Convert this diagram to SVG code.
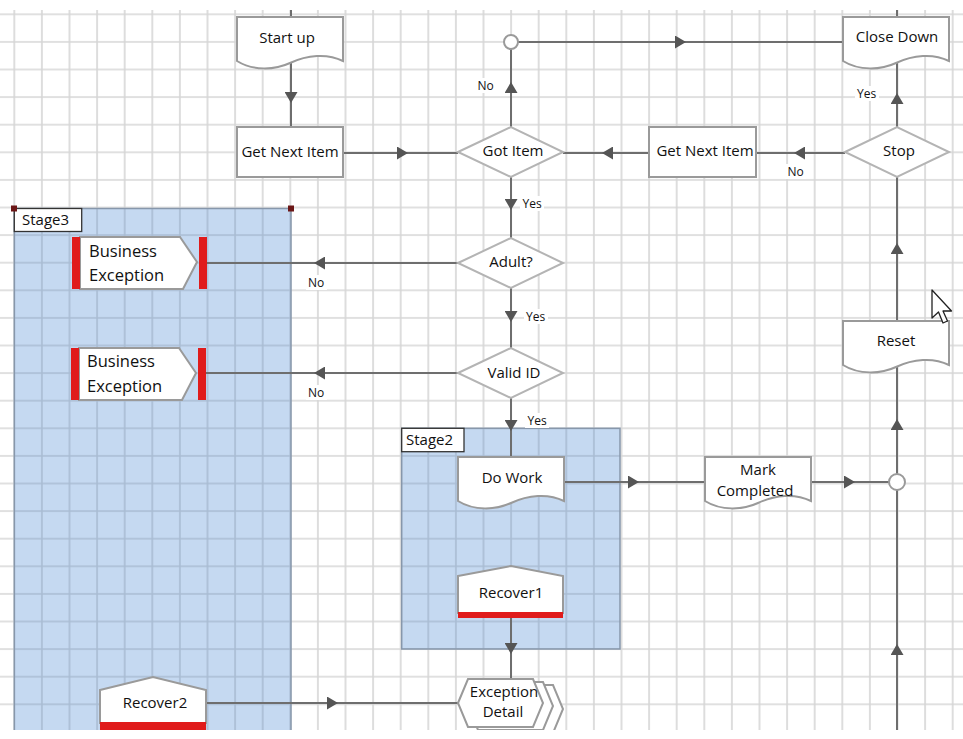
<svg xmlns="http://www.w3.org/2000/svg" xmlns:xlink="http://www.w3.org/1999/xlink" width="963" height="739" viewBox="0 0 963 739">
<style>
  text { font-family: "Open Sans", "Liberation Sans", sans-serif; fill: #111; }
  .t { font-size: 15px; text-anchor: middle; }
  .be { font-size: 16.5px; }
  .lbl { font-size: 12px; }
  .stg { font-size: 15px; }
  .node { fill: #fff; stroke: #9a9a9a; stroke-width: 2; }
  .dia { fill: #fff; stroke: #b4b4b4; stroke-width: 2; }
  .con { fill: none; stroke: #6e6e6e; stroke-width: 2; marker-mid: url(#arr); }
  .plain { fill: none; stroke: #6e6e6e; stroke-width: 2; }
  .red { fill: #e01b1b; }
  .lblbg { fill: #fff; }
  .stage { fill: url(#sg); stroke: #8797ab; stroke-width: 1.5; }
  .stagebox { fill: #fff; stroke: #333; stroke-width: 1.3; }
</style>
<defs>
  <pattern id="g" width="27.6" height="27.6" patternUnits="userSpaceOnUse" x="0.5" y="0.5">
    <rect width="27.6" height="27.6" fill="#fff"/>
    <path d="M13.8,0 V27.6 M0,13.8 H27.6" stroke="#d6d6d6" stroke-width="1.6"/>
  </pattern>
  <pattern id="sg" width="27.6" height="27.6" patternUnits="userSpaceOnUse" x="0.5" y="0.5">
    <rect width="27.6" height="27.6" fill="#c5d9f1"/>
    <path d="M13.8,0 V27.6 M0,13.8 H27.6" stroke="#a9bcd3" stroke-width="1.6"/>
  </pattern>
  <marker id="arr" markerUnits="userSpaceOnUse" markerWidth="11" markerHeight="13" refX="5" refY="6.5" orient="auto" viewBox="0 0 11 13">
    <path d="M0,0 L11,6.5 L0,13 Z" fill="#555"/>
  </marker>
  <path id="doc" d="M0,0 H106 V44 C90,36 70,38 53,46 C38,53 16,54 0,44 Z"/>
  <clipPath id="frame"><rect x="0" y="10" width="963" height="720"/></clipPath>
</defs>

<rect x="0" y="0" width="963" height="739" fill="#fff"/>
<g clip-path="url(#frame)">
  <rect x="0" y="10" width="963" height="720" fill="url(#g)"/>

  <g id="stage3">
    <rect class="stage" x="14.3" y="208.5" width="276.7" height="540"/>
  </g>
  <g id="stage2">
    <rect class="stage" x="401.7" y="428.3" width="218.3" height="220.7"/>
  </g>

  <g id="connectors">
    <path class="plain" d="M291,10 V17"/>
    <path class="plain" d="M897,10 V17"/>
    <path class="con" d="M291,62 L291,97 L291,127"/>
    <path class="con" d="M343,153 L402,153 L458,153"/>
    <path class="con" d="M511,127 L511,88 L511,49"/>
    <path class="con" d="M518,42 L680,42 L843,42"/>
    <path class="con" d="M897,127 L897,99 L897,62"/>
    <path class="con" d="M845,153 L800,153 L756,153"/>
    <path class="con" d="M649,153 L608,153 L563,153"/>
    <path class="con" d="M511,177 L511,204 L511,238"/>
    <path class="con" d="M458,263 L320,263 L207,263"/>
    <path class="con" d="M511,288 L511,316 L511,348"/>
    <path class="con" d="M458,373 L320,373 L206,373"/>
    <path class="con" d="M511,398 L511,425 L511,457"/>
    <path class="con" d="M563,482 L633,482 L705,482"/>
    <path class="con" d="M811,482 L849,482 L889,482"/>
    <path class="con" d="M897,474 L897,425 L897,366"/>
    <path class="con" d="M897,740 L897,650 L897,490"/>
    <path class="con" d="M897,321 L897,249 L897,177"/>
    <path class="con" d="M511,618 L511,648 L511,679"/>
    <path class="con" d="M206,703 L332,703 L458,703"/>
  </g>

  <g id="junction-top"><circle class="node" cx="511" cy="42" r="7" stroke-width="1.6"/></g>
  <g id="junction-right"><circle class="node" cx="897" cy="482" r="8" stroke-width="1.6"/></g>

  <g id="start-up">
    <use xlink:href="#doc" href="#doc" x="237" y="17" class="node"/>
    <text class="t" x="287" y="43">Start up</text>
  </g>
  <g id="get-next-item-1">
    <rect class="node" x="237" y="127" width="106" height="50"/>
    <text class="t" x="290" y="157">Get Next Item</text>
  </g>
  <g id="got-item">
    <polygon class="dia" points="458,152 511,127 563,152 511,177"/>
    <text class="t" x="513" y="156">Got Item</text>
  </g>
  <g id="get-next-item-2">
    <rect class="node" x="649" y="127" width="107" height="50"/>
    <text class="t" x="705" y="156">Get Next Item</text>
  </g>
  <g id="stop">
    <polygon class="dia" points="845,152 897,127 949,152 897,177"/>
    <text class="t" x="899" y="156">Stop</text>
  </g>
  <g id="close-down">
    <use xlink:href="#doc" href="#doc" x="843" y="17" class="node"/>
    <text class="t" x="897" y="42">Close Down</text>
  </g>
  <g id="adult">
    <polygon class="dia" points="458,263 511,238 563,263 511,288"/>
    <text class="t" x="511" y="267">Adult?</text>
  </g>
  <g id="valid-id">
    <polygon class="dia" points="458,373 511,348 563,373 511,398"/>
    <text class="t" x="514" y="378">Valid ID</text>
  </g>
  <g id="business-exception-1">
    <path class="node" stroke-width="1.2" d="M80,237 H180 L197,262 L183,289 H80 Z"/>
    <rect class="red" x="72" y="237" width="8" height="52"/>
    <rect class="red" x="199" y="237" width="8" height="52"/>
    <text class="be" x="89" y="257">Business</text>
    <text class="be" x="89" y="281">Exception</text>
  </g>
  <g id="business-exception-2">
    <path class="node" stroke-width="1.2" d="M79,348 H179 L196,373 L182,400 H79 Z"/>
    <rect class="red" x="71" y="348" width="8" height="52"/>
    <rect class="red" x="198" y="348" width="8" height="52"/>
    <text class="be" x="87" y="367">Business</text>
    <text class="be" x="87" y="392">Exception</text>
  </g>
  <g id="do-work">
    <use xlink:href="#doc" href="#doc" x="458" y="457" class="node"/>
    <text class="t" x="512" y="483">Do Work</text>
  </g>
  <g id="recover1">
    <path class="node" stroke-width="1.2" d="M458,576 L511,566 L563,576 V613 H458 Z"/>
    <rect class="red" x="458" y="612" width="105" height="6"/>
    <text class="t" x="511" y="598">Recover1</text>
  </g>
  <g id="mark-completed">
    <use xlink:href="#doc" href="#doc" x="705" y="457" class="node"/>
    <text class="t" x="758" y="475">Mark</text>
    <text class="t" x="755" y="496">Completed</text>
  </g>
  <g id="reset">
    <use xlink:href="#doc" href="#doc" x="843" y="321" class="node"/>
    <text class="t" x="896" y="346">Reset</text>
  </g>
  <g id="exception-detail">
    <path class="node" stroke-width="1.5" transform="translate(20,6)" d="M458,703 L468,679 H533 L543,703 L533,727 H468 Z"/>
    <path class="node" stroke-width="1.5" transform="translate(10,3)" d="M458,703 L468,679 H533 L543,703 L533,727 H468 Z"/>
    <path class="node" stroke-width="1.5" d="M458,703 L468,679 H533 L543,703 L533,727 H468 Z"/>
    <text class="t" x="504" y="697">Exception</text>
    <text class="t" x="503" y="717">Detail</text>
  </g>
  <g id="recover2">
    <path class="node" stroke-width="1.2" d="M100,690 L153,677 L206,690 V723 H100 Z"/>
    <rect class="red" x="100" y="722" width="106" height="8"/>
    <text class="t" x="155" y="708">Recover2</text>
  </g>

  <g id="labels">
    <rect class="lblbg" x="475" y="78" width="21" height="15"/>
    <text class="lbl" x="477.5" y="90">No</text>
    <rect class="lblbg" x="855" y="86" width="24" height="15"/>
    <text class="lbl" x="857" y="98">Yes</text>
    <rect class="lblbg" x="785" y="164" width="21" height="15"/>
    <text class="lbl" x="787.5" y="176">No</text>
    <rect class="lblbg" x="520" y="196" width="24" height="15"/>
    <text class="lbl" x="522.5" y="208">Yes</text>
    <rect class="lblbg" x="306" y="275" width="21" height="15"/>
    <text class="lbl" x="308" y="287">No</text>
    <rect class="lblbg" x="524" y="309" width="24" height="15"/>
    <text class="lbl" x="526" y="321">Yes</text>
    <rect class="lblbg" x="306" y="385" width="21" height="15"/>
    <text class="lbl" x="308" y="397">No</text>
    <rect class="lblbg" x="525" y="413" width="24" height="15"/>
    <text class="lbl" x="527.5" y="425">Yes</text>
  </g>

  <g id="stage3-label">
    <rect class="stagebox" x="14.3" y="208.5" width="67.4" height="23"/>
    <text class="stg" x="22" y="225">Stage3</text>
    <rect x="11" y="205.5" width="6" height="6" fill="#6b1616"/>
    <rect x="288" y="205.5" width="6" height="6" fill="#6b1616"/>
  </g>
  <g id="stage2-label">
    <rect class="stagebox" x="401.7" y="428.3" width="62.3" height="23.4"/>
    <text class="stg" x="406" y="445">Stage2</text>
  </g>

  <g id="cursor">
    <polygon points="932,290 932,318 938.5,312 943,323 947.5,321 943,311 951.5,311" fill="#fff" stroke="#222" stroke-width="1.3" stroke-linejoin="round"/>
  </g>
</g>
</svg>
